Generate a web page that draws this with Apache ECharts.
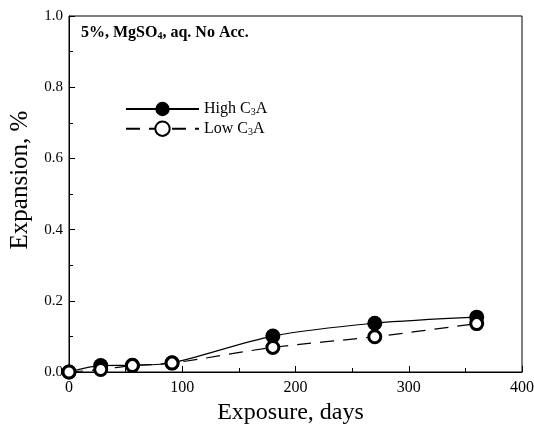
<!DOCTYPE html>
<html>
<head>
<meta charset="utf-8">
<script src="https://cdn.jsdelivr.net/npm/echarts@6/dist/echarts.min.js"></script>
<style>html,body{margin:0;padding:0;background:#fff}#c{width:534px;height:424px}</style>
</head>
<body>
<div id="c"></div>
<script>
const days = [0, 28, 56, 91, 180, 270, 360];
const highC3A = [0.0, 0.018, 0.019, 0.026, 0.101, 0.137, 0.154];
const lowC3A = [0.0, 0.007, 0.018, 0.025, 0.069, 0.099, 0.136];
const xTicks = [0, 100, 200, 300, 400];
const yTicks = [0.0, 0.2, 0.4, 0.6, 0.8, 1.0];

const F = '"Liberation Serif", "Times New Roman", serif';
const chart = echarts.init(document.getElementById('c'));
const pair = (xs, ys) => xs.map((x, i) => [x, ys[i]]);
const subRich = {
  n: { fontFamily: F, fontSize: 16, color: '#000' },
  s: { fontFamily: F, fontSize: 10, color: '#000', padding: [7, 0, 0, 0] }
};
chart.setOption({
  animation: false,
  backgroundColor: '#fff',
  grid: { left: 69, right: 12, top: 16, bottom: 52, show: true, borderColor: '#000', borderWidth: 1, outerBoundsMode: 'none', containLabel: false },
  title: {
    text: '{b|5%, MgSO}{bs|4}{b|, aq. No Acc.}',
    left: 76, top: 19,
    textStyle: {
      rich: {
        b: { fontFamily: F, fontSize: 16, fontWeight: 'bold', color: '#000' },
        bs: { fontFamily: F, fontSize: 10, fontWeight: 'bold', color: '#000', padding: [7, 0, 0, 0] }
      }
    }
  },
  legend: {
    orient: 'vertical', left: 120, top: 96, itemWidth: 73, itemHeight: 18, itemGap: 3,
    data: ['High C3A', 'Low C3A'],
    formatter: n => n === 'High C3A' ? '{n|High C}{s|3}{n|A}' : '{n|Low C}{s|3}{n|A}',
    textStyle: { rich: subRich }
  },
  xAxis: {
    type: 'value', min: 0, max: 400, interval: 100,
    name: 'Exposure, days', nameLocation: 'middle', nameGap: 29,
    nameTextStyle: { fontFamily: F, fontSize: 24, color: '#000', padding: [0, 10, 0, 0] },
    axisLine: { lineStyle: { color: '#000', width: 1 } },
    axisTick: { inside: true, length: 6, lineStyle: { color: '#000' } },
    minorTick: { show: true, splitNumber: 2, length: 4, lineStyle: { color: '#000' } },
    splitLine: { show: false },
    axisLabel: { fontFamily: F, fontSize: 16, color: '#000', margin: 8, formatter: v => xTicks.includes(v) ? String(v) : '' }
  },
  yAxis: {
    type: 'value', min: 0, max: 1, interval: 0.2,
    name: 'Expansion, %', nameLocation: 'middle', nameGap: 34,
    nameTextStyle: { fontFamily: F, fontSize: 25, color: '#000', padding: [0, 0, 0, 28] },
    axisLine: { show: true, lineStyle: { color: '#000', width: 1 } },
    axisTick: { show: true, inside: true, length: 6, lineStyle: { color: '#000' } },
    minorTick: { show: true, splitNumber: 2, length: 4, lineStyle: { color: '#000' } },
    splitLine: { show: false },
    axisLabel: { fontFamily: F, fontSize: 15, color: '#000', margin: 6, formatter: v => yTicks.find(t => Math.abs(t - v) < 1e-9) !== undefined ? v.toFixed(1) : '' }
  },
  series: [
    {
      name: 'High C3A', type: 'line', data: pair(days, highC3A), smooth: 0.3,
      symbol: 'circle', symbolSize: 15,
      itemStyle: { color: '#000' },
      lineStyle: { color: '#000', width: 1.2 }
    },
    {
      name: 'Low C3A', type: 'line', data: pair(days, lowC3A), smooth: 0.3,
      symbol: 'circle', symbolSize: 12,
      itemStyle: { color: '#fff', borderColor: '#000', borderWidth: 3 },
      lineStyle: { color: '#000', width: 1.2, type: [14, 9] }
    }
  ]
});
</script>
</body>
</html>
